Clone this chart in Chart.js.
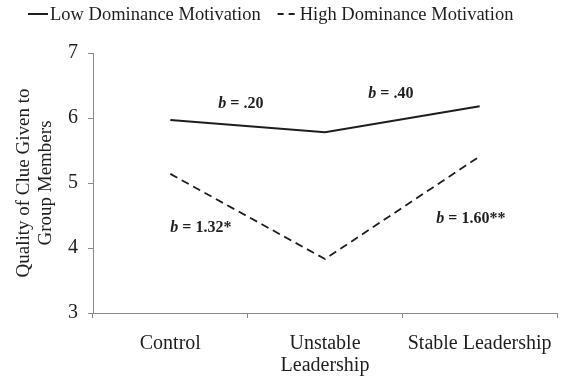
<!DOCTYPE html>
<html lang="en">
<head>
  <meta charset="UTF-8">
  <title>Dominance Motivation Chart</title>
  <script src="https://cdn.jsdelivr.net/npm/chart.js"></script>
  <style>
    html, body {
      margin: 0;
      padding: 0;
      background: #ffffff;
    }
    #wrap {
      width: 563px;
      height: 379px;
    }
  </style>
</head>
<body>
  <div id="wrap"><canvas id="chart"></canvas></div>

  <script>
    const categories = ['Control', ['Unstable', 'Leadership'], 'Stable Leadership'];
    const lowDominance = [5.97, 5.78, 6.18];
    const highDominance = [5.14, 3.83, 5.41];
    const yTicks = [3, 4, 5, 6, 7];

    // slope labels, placed in category / value units
    const slopeNotes = [
      { x: 0.31, y: 6.22, rest: ' = .20' },
      { x: 1.28, y: 6.37, rest: ' = .40' },
      { x: 0.0, y: 4.31, rest: ' = 1.32*' },
      { x: 1.72, y: 4.45, rest: ' = 1.60**' }
    ];

    const serif = '"Liberation Serif", "Times New Roman", serif';
    const ink = '#1e1e1e';
    const axisGrey = '#8a8a8a';

    const notesPlugin = {
      id: 'slopeNotes',
      afterDatasetsDraw(chart) {
        const ctx = chart.ctx;
        const xs = chart.scales.x;
        const ys = chart.scales.y;
        ctx.save();
        ctx.fillStyle = ink;
        ctx.textBaseline = 'middle';
        ctx.textAlign = 'left';
        slopeNotes.forEach(n => {
          const px = xs.getPixelForValue(n.x);
          const py = ys.getPixelForValue(n.y);
          ctx.font = 'italic bold 16px ' + serif;
          ctx.fillText('b', px, py);
          const w = ctx.measureText('b').width;
          ctx.font = 'bold 16px ' + serif;
          ctx.fillText(n.rest, px + w, py);
        });
        ctx.restore();
      }
    };

    // simple legend across the top: line sample then label
    const legendPlugin = {
      id: 'topLegend',
      afterDraw(chart) {
        const ctx = chart.ctx;
        const y = 14;
        let x = 28;
        ctx.save();
        ctx.font = '18.5px ' + serif;
        ctx.textBaseline = 'middle';
        ctx.textAlign = 'left';
        chart.data.datasets.forEach(ds => {
          ctx.strokeStyle = ds.borderColor;
          ctx.lineWidth = 2;
          ctx.setLineDash(ds.borderDash ? [6, 5] : []);
          ctx.beginPath();
          ctx.moveTo(x, y);
          ctx.lineTo(x + 20, y);
          ctx.stroke();
          ctx.setLineDash([]);
          ctx.fillStyle = ink;
          ctx.fillText(ds.label, x + 22, y + 1);
          x += 22 + ctx.measureText(ds.label).width + 17;
        });
        ctx.restore();
      }
    };

    new Chart(document.getElementById('chart'), {
      type: 'line',
      data: {
        labels: categories,
        datasets: [
          {
            label: 'Low Dominance Motivation',
            data: lowDominance,
            borderColor: ink,
            borderWidth: 2,
            pointRadius: 0,
            tension: 0,
            fill: false
          },
          {
            label: 'High Dominance Motivation',
            data: highDominance,
            borderColor: ink,
            borderWidth: 1.8,
            borderDash: [8, 5],
            pointRadius: 0,
            tension: 0,
            fill: false
          }
        ]
      },
      options: {
        responsive: true,
        maintainAspectRatio: false,
        animation: false,
        layout: {
          padding: { left: 0, right: 0, top: 53, bottom: 0 }
        },
        plugins: {
          legend: { display: false },
          tooltip: { enabled: false }
        },
        scales: {
          x: {
            offset: true,
            grid: {
              offset: true,
              drawOnChartArea: false,
              tickLength: 5,
              color: axisGrey
            },
            border: { color: axisGrey, width: 1 },
            ticks: {
              color: ink,
              padding: 15,
              maxRotation: 0,
              autoSkip: false,
              font: { family: serif, size: 20, lineHeight: 1.1 }
            },
            afterFit(scale) {
              scale.height = 66;
              scale.paddingLeft = 0;
              scale.paddingRight = 6;
            }
          },
          y: {
            min: 3,
            max: 7,
            afterBuildTicks(scale) {
              scale.ticks = yTicks.map(v => ({ value: v }));
            },
            grid: {
              drawOnChartArea: false,
              tickLength: 5,
              color: axisGrey
            },
            border: { color: axisGrey, width: 1 },
            ticks: {
              color: ink,
              padding: 10,
              font: { family: serif, size: 20 }
            },
            title: {
              display: true,
              text: ['Quality of Clue Given to', 'Group Members'],
              color: ink,
              font: { family: serif, size: 19, lineHeight: 1.15 },
              padding: { top: 13, bottom: 4 }
            },
            afterFit(scale) { scale.width = 93; }
          }
        }
      },
      plugins: [notesPlugin, legendPlugin]
    });
  </script>
</body>
</html>
